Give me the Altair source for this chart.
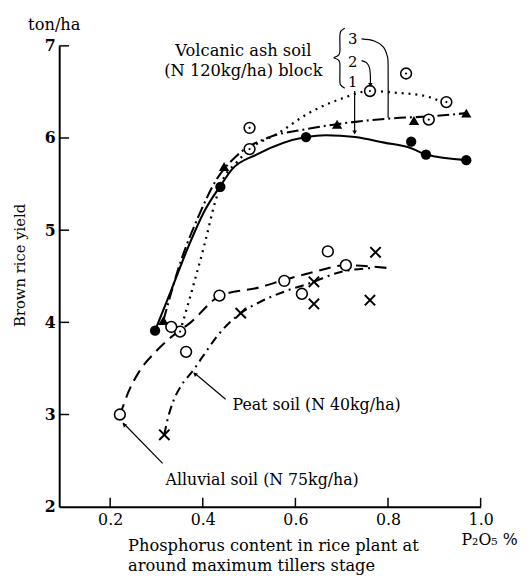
import altair as alt
import pandas as pd

FONT = "DejaVu Serif"

# ---- measured points (P2O5 %, brown rice yield ton/ha) ----
# Volcanic ash soil block 1 (filled circles, solid curve)
b1_x = [0.297, 0.438, 0.623, 0.850, 0.882, 0.969]
b1_y = [3.91, 5.47, 6.01, 5.96, 5.82, 5.76]
# block 2 (dotted circles, dotted curve)
b2_x = [0.351, 0.501, 0.501, 0.761, 0.839, 0.888, 0.926]
b2_y = [3.90, 5.88, 6.11, 6.51, 6.70, 6.20, 6.39]
# block 3 (filled triangles, dash-dot curve)
b3_x = [0.315, 0.446, 0.690, 0.856, 0.969]
b3_y = [4.02, 5.69, 6.15, 6.19, 6.27]
# Alluvial soil (open circles, long dash curve)
al_x = [0.221, 0.332, 0.364, 0.436, 0.576, 0.614, 0.670, 0.709]
al_y = [3.00, 3.95, 3.68, 4.29, 4.45, 4.31, 4.77, 4.62]
# Peat soil (crosses, dash-dot curve)
pe_x = [0.317, 0.482, 0.640, 0.640, 0.773, 0.761]
pe_y = [2.78, 4.10, 4.44, 4.20, 4.76, 4.24]

# ---- fitted curves ----
c1_x = [0.297, 0.332, 0.368, 0.404, 0.438, 0.463, 0.516, 0.623, 0.665, 0.729, 0.792, 0.850, 0.882, 0.969]
c1_y = [3.91, 4.35, 4.81, 5.21, 5.48, 5.66, 5.82, 6.01, 6.03, 6.01, 5.95, 5.89, 5.82, 5.76]
c2_x = [0.351, 0.383, 0.404, 0.427, 0.442, 0.474, 0.501, 0.559, 0.629, 0.701, 0.761, 0.820, 0.877, 0.913]
c2_y = [3.90, 4.46, 4.85, 5.31, 5.53, 5.74, 5.88, 6.04, 6.27, 6.43, 6.51, 6.49, 6.46, 6.40]
c3_x = [0.315, 0.353, 0.389, 0.431, 0.474, 0.544, 0.616, 0.690, 0.799, 0.905, 0.969]
c3_y = [4.02, 4.67, 5.13, 5.56, 5.81, 6.01, 6.09, 6.15, 6.21, 6.24, 6.27]
ca_x = [0.221, 0.240, 0.262, 0.298, 0.332, 0.374, 0.438, 0.523, 0.576, 0.650, 0.707, 0.799]
ca_y = [2.99, 3.25, 3.46, 3.68, 3.84, 4.00, 4.29, 4.38, 4.46, 4.56, 4.62, 4.59]
cp_x = [0.317, 0.321, 0.336, 0.353, 0.378, 0.400, 0.431, 0.482, 0.523, 0.574, 0.640, 0.686, 0.765]
cp_y = [2.78, 2.88, 3.14, 3.31, 3.47, 3.63, 3.85, 4.10, 4.22, 4.33, 4.44, 4.53, 4.59]

x_ticks = [0.2, 0.4, 0.6, 0.8, 1.0]
y_ticks = [3, 4, 5, 6, 7]

W, H = 428, 468
xscale = alt.Scale(domain=[0.09, 1.0], nice=False, zero=False)
yscale = alt.Scale(domain=[2, 7], nice=False, zero=False)
xaxis = alt.Axis(values=x_ticks, format=".1f", title=None, ticks=False, grid=False,
                 labelPadding=5, labelFontSize=16, labelFont=FONT, labelColor="black",
                 domainColor="black", domainWidth=2, labelFlush=False)
yaxis = alt.Axis(values=[2, 3, 4, 5, 6, 7], format="d", title=None, ticks=False, grid=False,
                 labelPadding=4, labelFontSize=16, labelFont=FONT, labelColor="black",
                 domainColor="black", domainWidth=2, labelFontWeight="bold")
X = alt.X("x:Q", scale=xscale, axis=xaxis)
Y = alt.Y("y:Q", scale=yscale, axis=yaxis)


def df(xs, ys):
    return pd.DataFrame({"x": xs, "y": ys})


def curve(xs, ys, dash=None, width=1.8):
    kw = dict(color="black", strokeWidth=width, interpolate="monotone", clip=False)
    if dash:
        kw["strokeDash"] = dash
    return alt.Chart(df(xs, ys)).mark_line(**kw).encode(x=X, y=Y)


layers = [
    curve(c1_x, c1_y, None, 2.1),
    curve(c2_x, c2_y, [2, 5], 2.3),
    curve(c3_x, c3_y, [12, 4, 2, 4], 2.1),
    curve(ca_x, ca_y, [12, 7], 2.1),
    curve(cp_x, cp_y, [9, 5, 2, 5], 2.1),
]

# markers
layers += [
    alt.Chart(df(b1_x, b1_y)).mark_point(shape="circle", filled=True, color="black", size=110, opacity=1).encode(x=X, y=Y),
    alt.Chart(df(b3_x, b3_y)).mark_point(shape="triangle-up", filled=True, color="black", size=110, opacity=1).encode(x=X, y=Y),
    alt.Chart(df(b2_x, b2_y)).mark_point(shape="circle", filled=True, fill="white", stroke="black", strokeWidth=1.6, size=120, opacity=1).encode(x=X, y=Y),
    alt.Chart(df(b2_x, b2_y)).mark_point(shape="circle", filled=True, color="black", size=5, opacity=1).encode(x=X, y=Y),
    alt.Chart(df(al_x, al_y)).mark_point(shape="circle", filled=True, fill="white", stroke="black", strokeWidth=1.6, size=120, opacity=1).encode(x=X, y=Y),
    alt.Chart(df(pe_x, pe_y)).mark_point(shape="M-1,-1L1,1M-1,1L1,-1", filled=False, color="black", strokeWidth=2, size=110, opacity=1).encode(x=X, y=Y),
]

# inward ticks
layers += [
    alt.Chart(pd.DataFrame({"x": x_ticks})).mark_rule(color="black", strokeWidth=1.5).encode(
        x=X, y=alt.value(H), y2=alt.value(H - 9)),
    alt.Chart(pd.DataFrame({"y": y_ticks})).mark_rule(color="black", strokeWidth=1.5).encode(
        y=Y, x=alt.value(0), x2=alt.value(10)),
]

# ---- annotations (data coordinates) ----
brace_x = [0.7066, 0.6981, 0.6960, 0.6960, 0.6917, 0.6832, 0.6917, 0.6960, 0.6960, 0.6981, 0.7066]
brace_y = [7.192, 7.160, 7.107, 6.936, 6.893, 6.872, 6.850, 6.808, 6.615, 6.573, 6.541]
lead3_x = [0.7428, 0.7704, 0.7896, 0.7981, 0.8002, 0.8002]
lead3_y = [7.075, 7.053, 6.989, 6.893, 6.786, 6.220]
lead2_x = [0.7428, 0.7534, 0.7598, 0.7619, 0.7619]
lead2_y = [6.840, 6.818, 6.765, 6.679, 6.585]
lead1_x = [0.7279, 0.7279]
lead1_y = [6.509, 6.070]
leadp_x = [0.3813, 0.4493]
leadp_y = [3.453, 3.165]
leada_x = [0.2282, 0.3133]
leada_y = [2.908, 2.470]

paths = []
for g, (xs, ys) in enumerate([(brace_x, brace_y), (lead3_x, lead3_y), (lead2_x, lead2_y),
                               (lead1_x, lead1_y), (leadp_x, leadp_y), (leada_x, leada_y)]):
    for i, (a, b) in enumerate(zip(xs, ys)):
        paths.append({"g": g, "i": i, "x": a, "y": b})
layers.append(
    alt.Chart(pd.DataFrame(paths)).mark_line(color="black", strokeWidth=1.2, interpolate="cardinal", clip=False).encode(
        x=X, y=Y, detail="g:N", order="i:Q")
)

arrow_x = [0.7619, 0.7279, 0.2300, 0.3830]
arrow_y = [6.575, 6.060, 2.890, 3.440]
arrow_a = [180, 180, 315, 310]
layers.append(
    alt.Chart(pd.DataFrame({"x": arrow_x, "y": arrow_y, "a": arrow_a})).mark_point(
        shape="triangle-up", filled=True, color="black", size=22, opacity=1, clip=False).encode(
        x=X, y=Y, angle=alt.Angle("a:Q", scale=None))
)

texts_c = pd.DataFrame({
    "x": [0.4876, 0.4876, 0.7236, 0.7236, 0.7236, 0.0794, 1.0192],
    "y": [6.947, 6.722, 7.075, 6.829, 6.605, 7.224, 1.637],
    "t": ["Volcanic ash soil", "(N 120kg/ha) block", "3", "2", "1", "ton/ha", "P₂O₅ %"],
    "s": [16.5, 16.5, 15, 15, 15, 16.5, 16],
})
layers.append(
    alt.Chart(texts_c).mark_text(font=FONT, color="black", align="center", baseline="middle", clip=False).encode(
        x=X, y=Y, text="t:N", size=alt.Size("s:Q", scale=None))
)
texts_l = pd.DataFrame({
    "x": [0.4642, 0.3196, 0.2388, 0.2388],
    "y": [3.100, 2.294, 1.573, 1.355],
    "t": ["Peat soil (N 40kg/ha)", "Alluvial soil (N 75kg/ha)",
          "Phosphorus content in rice plant at", "around maximum tillers stage"],
    "s": [16, 16, 16.5, 16.5],
})
layers.append(
    alt.Chart(texts_l).mark_text(font=FONT, color="black", align="left", baseline="middle", clip=False).encode(
        x=X, y=Y, text="t:N", size=alt.Size("s:Q", scale=None))
)
layers.append(
    alt.Chart(pd.DataFrame({"x": [0.005], "y": [4.618], "t": ["Brown rice yield"]})).mark_text(
        font=FONT, fontSize=15, color="black", align="center", baseline="middle", angle=270, clip=False).encode(
        x=X, y=Y, text="t:N")
)

chart = alt.layer(*layers).properties(
    width=W, height=H,
    autosize=alt.AutoSizeParams(type="none"),
    padding={"left": 52, "top": 34, "right": 42, "bottom": 68},
    background="white",
).configure_view(stroke=None)

chart.save("out.html", embed_options={"renderer": "svg", "actions": False})
